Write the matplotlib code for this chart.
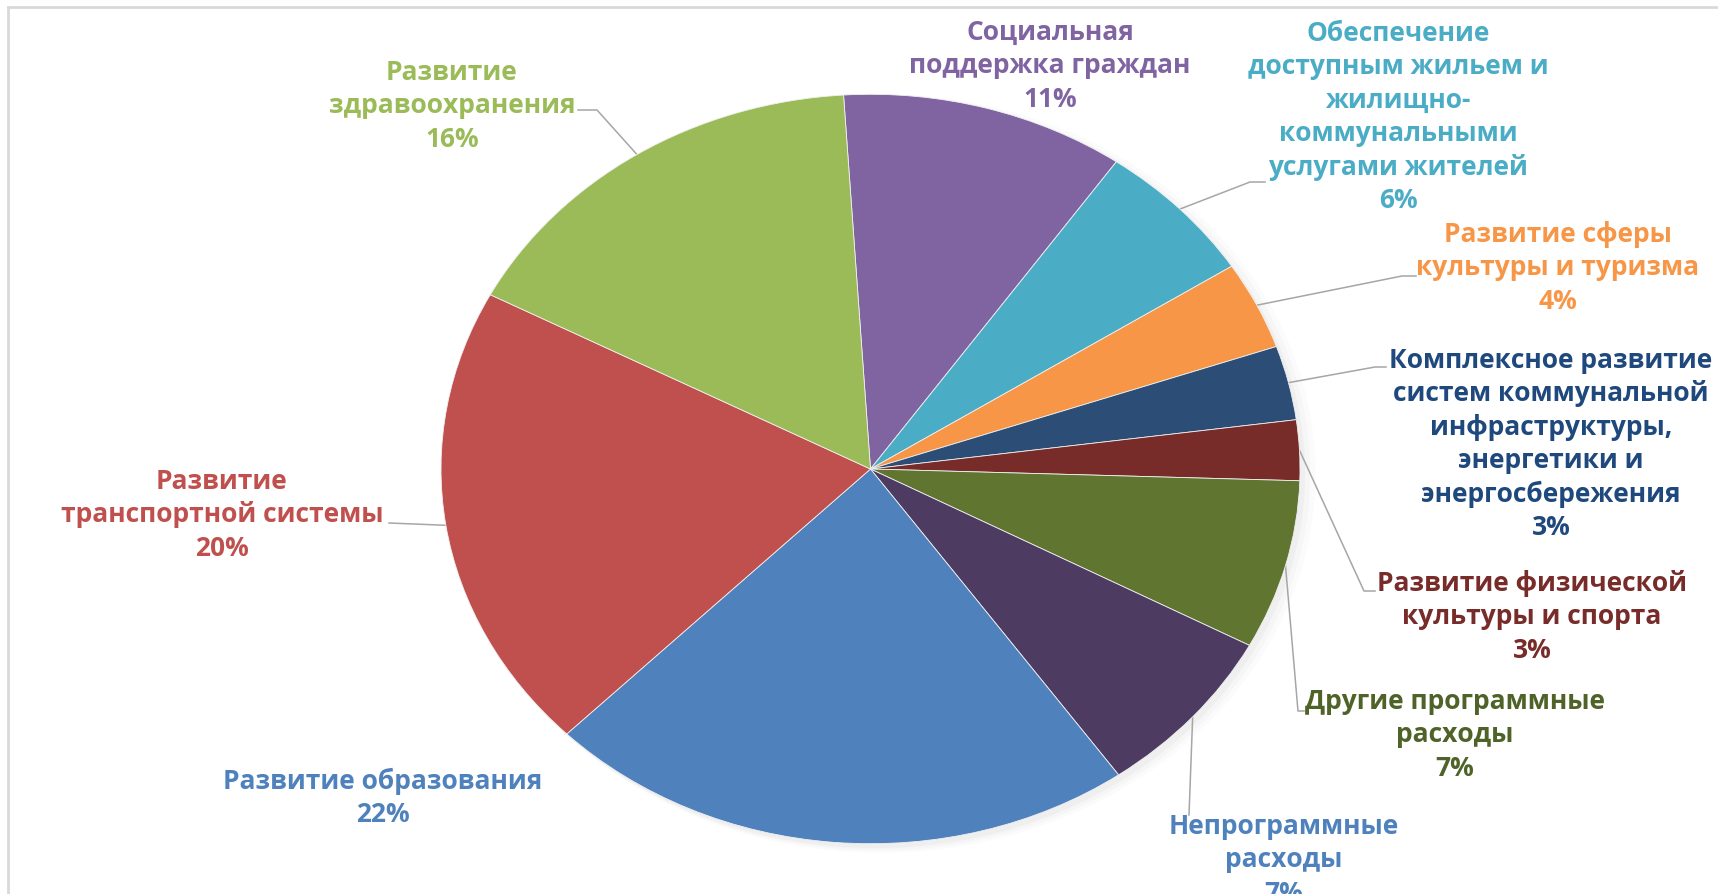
import matplotlib
matplotlib.use("Agg")
import matplotlib.pyplot as plt
import numpy as np

plt.rcParams['font.family'] = ['Open Sans', 'DejaVu Sans']

# data (shares, clockwise from the top)
names = ["Социальная\nподдержка граждан",
         "Обеспечение\nдоступным жильем и\nжилищно-\nкоммунальными\nуслугами жителей",
         "Развитие сферы\nкультуры и туризма",
         "Комплексное развитие\nсистем коммунальной\nинфраструктуры,\nэнергетики и\nэнергосбережения",
         "Развитие физической\nкультуры и спорта",
         "Другие программные\nрасходы",
         "Непрограммные\nрасходы",
         "Развитие образования",
         "Развитие\nтранспортной системы",
         "Развитие\nздравоохранения"]
values = [10.7, 6.2, 3.8, 3.2, 2.6, 7.3, 7.4, 22.3, 20.2, 16.3]
colors = ["#8064A2", "#4BACC6", "#F79646", "#2C4D75", "#772C2A",
          "#5F7530", "#4D3B62", "#4F81BD", "#C0504D", "#9BBB59"]
text_colors = ["#8064A2", "#4BACC6", "#F79646", "#1F497D", "#772C2A",
               "#4F6228", "#4F81BD", "#4F81BD", "#C0504D", "#9BBB59"]

# label centres and leader line end points, in pixels from the top-left corner
label_xy = [(1050, 66), (1398, 117), (1558, 268), (1551, 444), (1532, 617),
            (1455, 735), (1284, 860), (383, 798), (222, 515), (452, 106)]
leader_end = [None, [(1265, 183), (1250, 183)], [(1416, 277), (1402, 277)],
              [(1386, 368), (1375, 368)], [(1375, 592), (1364, 592)],
              [(1304, 712), (1298, 712)], [(1189, 816), (1189, 816)], None,
              [(389, 524), (389, 524)], [(578, 111), (597, 111)]]

W, H = 1718, 895
cx, cy = 870.5, 470.0   # pie centre, px
rx, ry = 429.5, 374.7   # the pie is stretched horizontally
start = 93.6

def px(x, y):
    return (x - cx) / rx, (cy - y) / ry

fig = plt.figure(figsize=(W / 100, H / 100), dpi=100)
ax = fig.add_axes([0, 0, 1, 1])

# faint shadow on the right side
for i, a in enumerate([0.05, 0.04, 0.03]):
    sh = matplotlib.patches.Ellipse((0.012 + 0.006 * i, -0.012), 2.0 + 0.012 * i, 2.0 + 0.012 * i,
                                    color="#808080", alpha=a, lw=0, zorder=1)
    ax.add_patch(sh)

wedges, _ = ax.pie(values, colors=colors, startangle=start, counterclock=False,
                   radius=1.0, wedgeprops=dict(linewidth=0.6, edgecolor="#f0f0f0"))
for w in wedges:
    w.set_zorder(3)
ax.set_aspect('auto')
ax.set_xlim(-cx / rx, (W - cx) / rx)
ax.set_ylim(-(H - cy) / ry, cy / ry)
ax.axis('off')

total = sum(values)
cum = 0.0
for i, v in enumerate(values):
    mid = np.deg2rad(-3.6 + (cum + v / 2) / total * 360)  # clockwise from the top
    cum += v
    lx, ly = px(*label_xy[i])
    ax.text(lx, ly, f"{names[i]}\n{v / total * 100:.0f}%", color=text_colors[i],
            fontsize=19, fontweight='bold', ha='center', va='center',
            multialignment='center', linespacing=1.31, zorder=5)
    if leader_end[i] is not None:
        ex, ey = zip(*[px(*p) for p in leader_end[i]])
        xs = [np.sin(mid)] + list(ex)[::-1]
        ys = [np.cos(mid)] + list(ey)[::-1]
        ax.plot(xs, ys, color="#A6A6A6", lw=1.1, zorder=2)

# chart area border (top and left visible)
fig.add_artist(plt.Line2D([8 / W, 1], [1 - 8 / H, 1 - 8 / H], color="#D9D9D9", lw=2))
fig.add_artist(plt.Line2D([8 / W, 8 / W], [0, 1 - 8 / H], color="#D9D9D9", lw=2))

fig.savefig("out.png", dpi=100)
